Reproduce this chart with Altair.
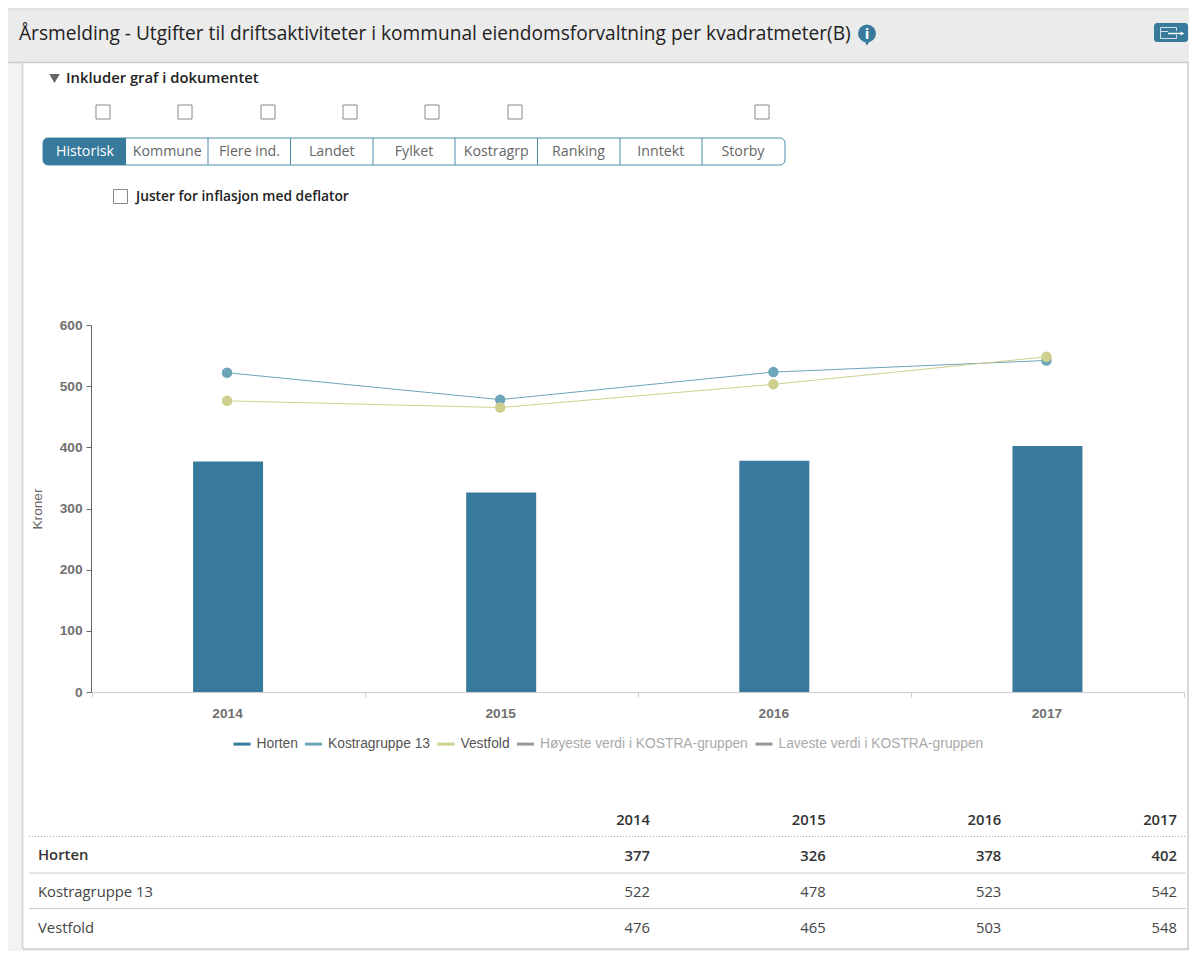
import altair as alt
import pandas as pd

YEARS = ["2014", "2015", "2016", "2017"]
HORTEN = [377, 326, 378, 402]
KOSTRA = [522, 478, 523, 542]
VESTFOLD = [476, 465, 503, 548]
SERIES = ["Horten", "Kostragruppe 13", "Vestfold",
          "Høyeste verdi i KOSTRA-gruppen", "Laveste verdi i KOSTRA-gruppen"]
COLORS = ["#377a9b", "#6da5ba", "#cfd08f", "#999999", "#999999"]
TABS = ["Historisk", "Kommune", "Flere ind.", "Landet", "Fylket",
        "Kostragrp", "Ranking", "Inntekt", "Storby"]
TITLE = "Årsmelding - Utgifter til driftsaktiviteter i kommunal eiendomsforvaltning per kvadratmeter(B)"

W, H = 1181, 943
OX, OY = 8, 8
SANS = "Open Sans"
ARIAL = "Liberation Sans"
one = alt.Data(values=[{"a": 1}])


def rect(x0, y0, x1, y1, fill, stroke=None, sw=1, **kw):
    args = dict(fill=fill)
    if stroke:
        args.update(stroke=stroke, strokeWidth=sw)
    args.update(kw)
    return alt.Chart(one).mark_rect(**args).encode(
        x=alt.value(x0 - OX), x2=alt.value(x1 - OX),
        y=alt.value(y0 - OY), y2=alt.value(y1 - OY))


def hline(x0, x1, y, color, sw=1, **kw):
    return alt.Chart(one).mark_rule(color=color, strokeWidth=sw, **kw).encode(
        x=alt.value(x0 - OX), x2=alt.value(x1 - OX), y=alt.value(y - OY))


def vline(x, y0, y1, color, sw=1):
    return alt.Chart(one).mark_rule(color=color, strokeWidth=sw).encode(
        x=alt.value(x - OX), y=alt.value(y0 - OY), y2=alt.value(y1 - OY))


def label(x, y, s, size=13, color="#333333", weight="normal", align="left", font=SANS):
    return alt.Chart(one).mark_text(
        text=s, fontSize=size, color=color, fontWeight=weight, align=align,
        baseline="middle", font=font).encode(
        x=alt.value(x - OX), y=alt.value(y - OY))


def shape(x, y, name, size, color):
    return alt.Chart(one).mark_point(
        shape=name, size=size, filled=True, color=color, opacity=1, strokeWidth=0).encode(
        x=alt.value(x - OX), y=alt.value(y - OY))


ui = []
# page frame
ui.append(rect(8, 63, 1189, 951, "#f3f3f3"))
ui.append(rect(23, 62, 1188, 949, "#ffffff"))
ui.append(vline(22.5, 62, 949, "#d9d9d9", 2))
ui.append(vline(1188, 62, 949, "#d9d9d9", 2))
ui.append(hline(23, 1189, 949, "#cccccc", 1.5))
# header
ui.append(rect(8, 9, 1189, 62, "#ebebeb"))
ui.append(hline(8, 1189, 9, "#dddddd", 1.5))
ui.append(hline(8, 1189, 62.5, "#cccccc", 1.5))
ui.append(label(19, 34, TITLE, size=19.13, color="#222222", weight=500))
ui.append(shape(867, 41, "triangle-down", 110, "#377a9b"))
ui.append(shape(867, 33.5, "circle", 320, "#377a9b"))
ui.append(label(867, 34, "i", size=15, color="#ffffff", weight="bold", align="center"))
# export icon
ICON = -8
ui.append(rect(1162 + ICON, 23, 1196 + ICON, 42, "#377a9b", cornerRadius=3))
ui.append(rect(1168.5 + ICON, 27.5, 1184.5 + ICON, 38.5, "#377a9b", stroke="#cfe0e8"))
ui.append(hline(1168.5 + ICON, 1184.5 + ICON, 31.5, "#cfe0e8"))
ui.append(rect(1176 + ICON, 31, 1192 + ICON, 35, "#377a9b"))
ui.append(hline(1176 + ICON, 1190 + ICON, 33.5, "#ffffff", 1.5))
ui.append(shape(1190.5 + ICON, 33.5, "triangle-right", 18, "#ffffff"))
# controls
ui.append(shape(54.5, 78.5, "triangle-down", 110, "#666666"))
ui.append(label(66, 78.5, "Inkluder graf i dokumentet", size=14.8, weight=600, color="#222222"))
for cx in [103, 185, 268, 350, 432, 515, 762]:
    ui.append(rect(cx - 7, 105, cx + 7, 119, "#ffffff", stroke="#888888"))
ui.append(rect(43, 138, 785, 165, "#ffffff", stroke="#4f8cab", cornerRadius=5))
ui.append(rect(43, 138, 126, 165, "#377a9b", cornerRadiusTopLeft=5, cornerRadiusBottomLeft=5))
for dx in [208, 290.5, 373, 455, 537.5, 620, 702]:
    ui.append(vline(dx, 138, 165, "#4f8cab"))
for i, name in enumerate(TABS):
    ui.append(label(85 + i * 82.25, 151.5, name, size=14.2, color="#ffffff" if i == 0 else "#666666", align="center"))
ui.append(rect(113.5, 189.5, 127.5, 203.5, "#ffffff", stroke="#888888"))
ui.append(label(136, 196.5, "Juster for inflasjon med deflator", size=13.8, weight=600, color="#222222"))
# table rules
ui.append(hline(29, 1186, 836.5, "#aaaaaa", 1, strokeDash=[1, 2]))
ui.append(hline(29, 1186, 873, "#cccccc"))
ui.append(hline(29, 1186, 908.5, "#cccccc"))

# ---------- chart ----------
rows = []
for s, vals in zip(SERIES[:3], [HORTEN, KOSTRA, VESTFOLD]):
    for y, v in zip(YEARS, vals):
        rows.append({"year": y, "series": s, "value": v})
df = pd.DataFrame(rows)

x_scale = alt.Scale(type="band", domain=YEARS, range=[91.5 - OX, 1184 - OX], paddingInner=0, paddingOuter=0)
y_scale = alt.Scale(domain=[0, 600], range=[692 - OY, 325 - OY], nice=False)
color = alt.Color("series:N", scale=alt.Scale(domain=SERIES, range=COLORS), legend=alt.Legend(
    orient="none", legendX=224, legendY=726, direction="horizontal", columns=5, title=None,
    symbolType="stroke", symbolSize=289, symbolStrokeWidth=3, labelFont=ARIAL, labelFontSize=13.8,
    labelOffset=4.5, columnPadding=0.5, padding=0, symbolOpacity=1, labelLimit=300,
    labelColor={"expr": "indexof(['Horten','Kostragruppe 13','Vestfold'], datum.label) >= 0 ? '#555555' : '#aaaaaa'"}))

x_enc = alt.X("year:N", scale=x_scale, title=None, axis=alt.Axis(
    offset=-(H - (692 - OY)), tickBand="extent", labelAngle=0, domainColor="#cccccc", tickColor="#cccccc",
    tickSize=5, labelFont=ARIAL, labelFontSize=13.7, labelColor="#707070", labelFontWeight="bold",
    labelPadding=9, labelOffset=-1, grid=False, zindex=1))
y_enc = alt.Y("value:Q", scale=y_scale, title="Kroner", axis=alt.Axis(
    offset=-(91 - OX), values=[0, 100, 200, 300, 400, 500, 600], domainColor="#666666", tickColor="#666666",
    tickSize=5, labelFont=ARIAL, labelFontSize=13.7, labelColor="#707070", labelFontWeight="bold",
    labelPadding=4, grid=False, titleFont=ARIAL, titleFontSize=13.7, titleColor="#666666",
    titleFontWeight="normal", titlePadding=15, zindex=1))

base = alt.Chart(df).encode(x=x_enc, y=y_enc, color=color)
bars = base.transform_filter("datum.series == 'Horten'").mark_bar(size=70)
lines_src = base.transform_filter("datum.series != 'Horten'")
lines = lines_src.mark_line(strokeWidth=1, xOffset=-1)
dots = lines_src.mark_circle(size=110, opacity=1, xOffset=-1)
plot = alt.layer(bars, lines, dots)

# ---------- table ----------
table_rows = [("head", YEARS), ("Horten", HORTEN), ("Kostragruppe 13", KOSTRA), ("Vestfold", VESTFOLD)]
cells = []
for key, vals in table_rows:
    for y, v in zip(YEARS, vals):
        cells.append({"col": y, "row": key, "txt": str(v), "bold": key in ("head", "Horten")})
cells_df = pd.DataFrame(cells)
row_keys = [r[0] for r in table_rows]
tx = alt.X("col:N", axis=None, scale=alt.Scale(type="point", domain=YEARS, range=[650 - OX, 1177 - OX], padding=0))
ty = alt.Y("row:N", axis=None, scale=alt.Scale(type="point", domain=row_keys, range=[821 - OY, 928.5 - OY], padding=0))
tbl_bold = alt.Chart(cells_df).transform_filter("datum.bold").mark_text(
    font=SANS, fontSize=14.8, fontWeight=600, color="#333333", align="right", baseline="middle"
).encode(x=tx, y=ty, text="txt:N")
tbl_reg = alt.Chart(cells_df).transform_filter("!datum.bold").mark_text(
    font=SANS, fontSize=14.8, color="#444444", align="right", baseline="middle"
).encode(x=tx, y=ty, text="txt:N")
ui.append(label(38, 856, "Horten", size=14.8, weight=600))
ui.append(label(38, 892.5, "Kostragruppe 13", size=14.8, color="#444444"))
ui.append(label(38, 928.5, "Vestfold", size=14.8, color="#444444"))

chart = alt.layer(*ui, plot, tbl_bold, tbl_reg).resolve_scale(
    x="independent", y="independent"
).properties(
    width=W, height=H, padding=0, background="#ffffff",
    autosize=alt.AutoSizeParams(type="none", contains="content"),
).configure_view(stroke=None)

chart.save("out.html", embed_options={"renderer": "svg", "actions": False})
